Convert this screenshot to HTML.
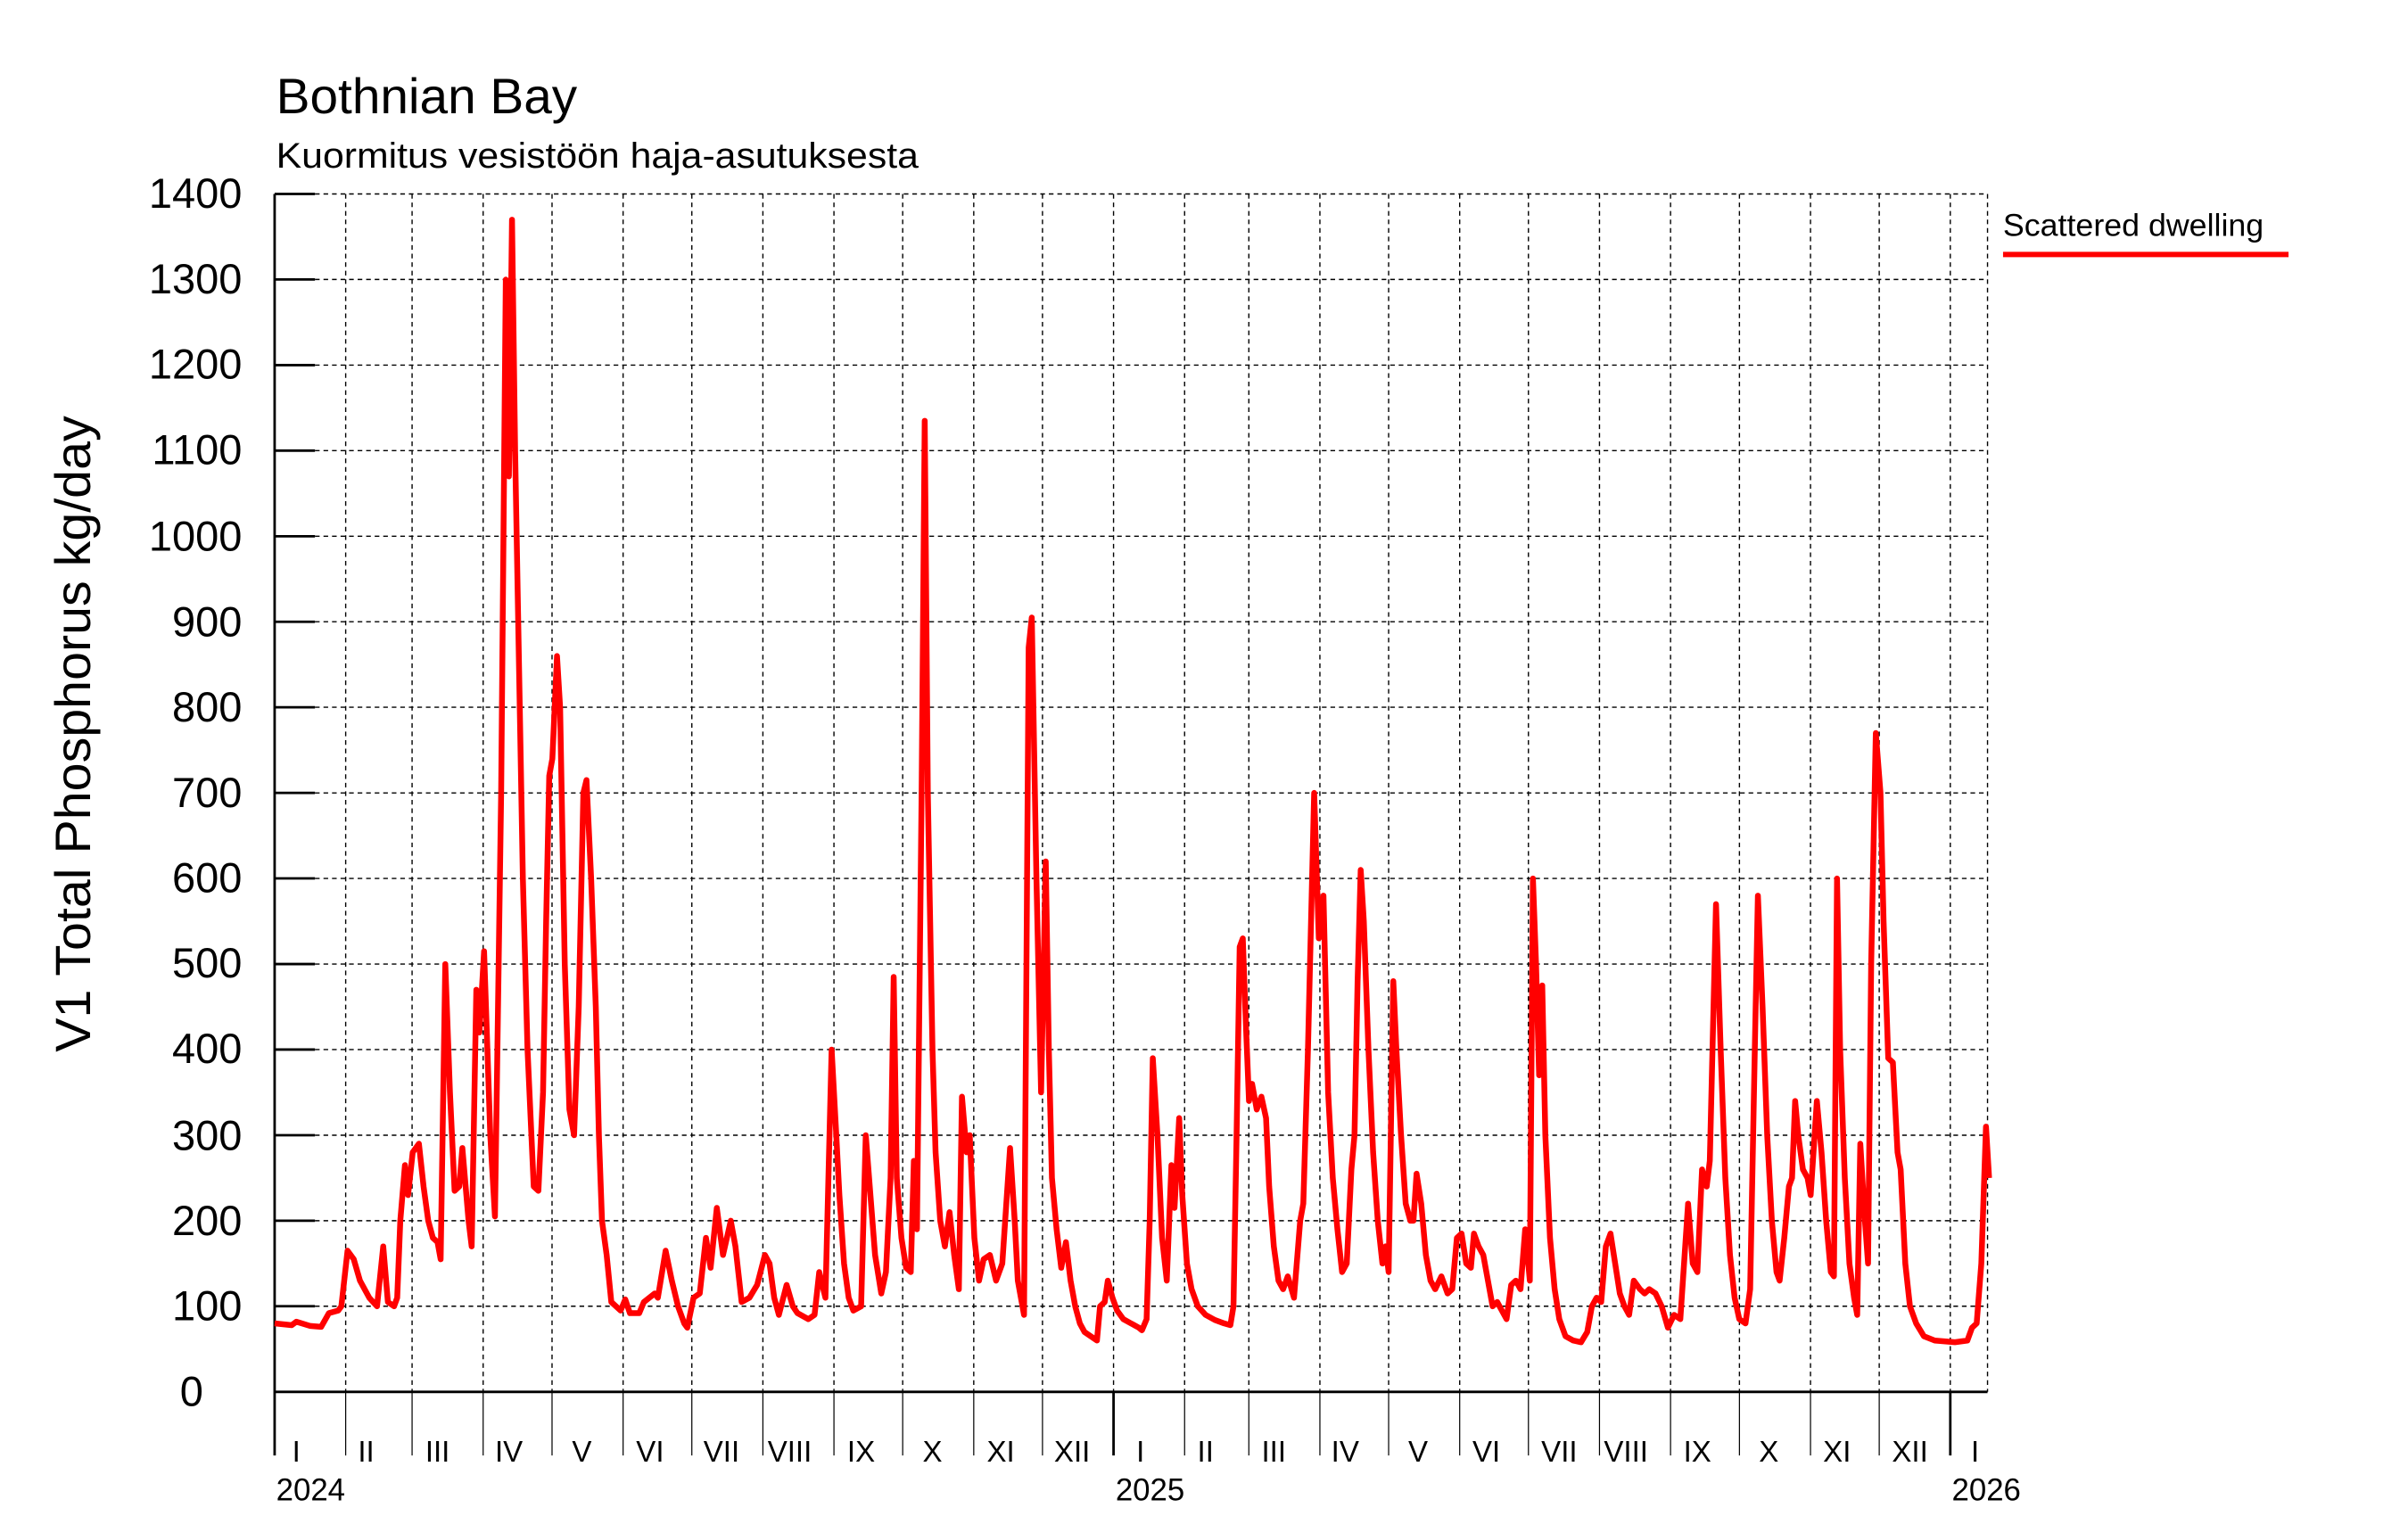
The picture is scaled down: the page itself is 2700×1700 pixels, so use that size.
<!DOCTYPE html>
<html><head><meta charset="utf-8"><style>
html,body{margin:0;padding:0;background:#fff;}
svg{display:block;}
text{font-family:"Liberation Sans",sans-serif;fill:#000;}
</style></head><body>
<svg width="2700" height="1700" viewBox="0 0 1552 977" preserveAspectRatio="none" xmlns="http://www.w3.org/2000/svg">
<rect width="1552" height="977" fill="#fff"/>
<text x="178" y="73" font-size="32" textLength="194" lengthAdjust="spacingAndGlyphs">Bothnian Bay</text>
<text x="178" y="108" font-size="23" textLength="414" lengthAdjust="spacingAndGlyphs">Kuormitus vesistöön haja-asutuksesta</text>
<text transform="translate(58,473) rotate(-90)" font-size="32" text-anchor="middle" textLength="410" lengthAdjust="spacingAndGlyphs">V1 Total Phosphorus kg/day</text>
<g stroke="#000" stroke-width="0.8" stroke-dasharray="3,2.5" fill="none">
<path d="M203 125H1281M203 180.1H1281M203 235.3H1281M203 290.4H1281M203 345.6H1281M203 400.7H1281M203 455.8H1281M203 511H1281M203 566.1H1281M203 621.3H1281M203 676.4H1281M203 731.6H1281M203 786.7H1281M203 841.8H1281"/>
<path d="M222.8 125V897M265.6 125V897M311.4 125V897M355.8 125V897M401.6 125V897M445.9 125V897M491.7 125V897M537.5 125V897M581.8 125V897M627.6 125V897M671.9 125V897M717.7 125V897M763.5 125V897M804.9 125V897M850.7 125V897M895 125V897M940.8 125V897M985.1 125V897M1030.9 125V897M1076.7 125V897M1121.1 125V897M1166.9 125V897M1211.2 125V897M1257 125V897M1281 125V897"/>
</g>
<g stroke="#000" stroke-width="0.7">
<path d="M222.8 897V938M265.6 897V938M311.4 897V938M355.8 897V938M401.6 897V938M445.9 897V938M491.7 897V938M537.5 897V938M581.8 897V938M627.6 897V938M671.9 897V938M763.5 897V938M804.9 897V938M850.7 897V938M895 897V938M940.8 897V938M985.1 897V938M1030.9 897V938M1076.7 897V938M1121.1 897V938M1166.9 897V938M1211.2 897V938"/>
</g>
<g stroke="#000" stroke-width="1.6" fill="none">
<path d="M177 125V938M177 897H1281M717.7 897V938M1257 897V938"/>
<path d="M177 125H203M177 180.1H203M177 235.3H203M177 290.4H203M177 345.6H203M177 400.7H203M177 455.8H203M177 511H203M177 566.1H203M177 621.3H203M177 676.4H203M177 731.6H203M177 786.7H203M177 841.8H203"/>
</g>
<g font-size="27" text-anchor="end">
<text x="156" y="134">1400</text><text x="156" y="189">1300</text><text x="156" y="244">1200</text><text x="156" y="299">1100</text><text x="156" y="355">1000</text><text x="156" y="410">900</text><text x="156" y="465">800</text><text x="156" y="520">700</text><text x="156" y="575">600</text><text x="156" y="630">500</text><text x="156" y="685">400</text><text x="156" y="741">300</text><text x="156" y="796">200</text><text x="156" y="851">100</text><text x="131" y="906">0</text>
</g>
<g font-size="19" text-anchor="middle">
<text x="191" y="942">I</text><text x="236" y="942">II</text><text x="282" y="942">III</text><text x="328" y="942">IV</text><text x="375" y="942">V</text><text x="419" y="942">VI</text><text x="465" y="942">VII</text><text x="509" y="942">VIII</text><text x="555" y="942">IX</text><text x="601" y="942">X</text><text x="645" y="942">XI</text><text x="691" y="942">XII</text>
<text x="735" y="942">I</text><text x="777" y="942">II</text><text x="821" y="942">III</text><text x="867" y="942">IV</text><text x="914" y="942">V</text><text x="958" y="942">VI</text><text x="1005" y="942">VII</text><text x="1048" y="942">VIII</text><text x="1094" y="942">IX</text><text x="1140" y="942">X</text><text x="1184" y="942">XI</text><text x="1231" y="942">XII</text><text x="1273" y="942">I</text>
</g>
<g font-size="20">
<text x="178" y="967">2024</text><text x="719" y="967">2025</text><text x="1258" y="967">2026</text>
</g>
<text x="1291" y="152" font-size="20" textLength="168" lengthAdjust="spacingAndGlyphs">Scattered dwelling</text>
<line x1="1291" y1="164" x2="1475" y2="164" stroke="#f00" stroke-width="3.5"/>
<g transform="translate(0,897) scale(1,-0.5514)">
<polyline fill="none" stroke="#ff0000" stroke-width="6.5" vector-effect="non-scaling-stroke" stroke-linejoin="round" points="177,80 188,78 191,82 200,77 207,76 212,92 218,95 220,100 224,165 228,155 232,130 238,110 243,100 247,170 250,105 254,100 256,110 258,200 261,265 263,230 266,280 270,290 273,240 276,200 279,180 282,175 284,155 287,500 290,350 293,235 296,240 298,285 302,200 304,170 307,470 309,420 312,515 316,300 319,205 323,700 326,1300 328,1070 330,1370 332,1100 334,900 337,600 340,400 344,240 347,235 350,350 352,550 354,720 356,740 359,860 361,800 364,500 367,330 370,300 373,450 376,700 378,715 381,600 384,450 386,300 388,200 391,160 394,105 400,95 403,108 406,92 412,92 415,105 422,115 424,110 429,165 433,130 437,100 441,80 443,75 447,110 451,115 455,180 458,145 462,215 466,160 471,200 474,170 478,105 483,110 488,125 493,160 496,150 499,110 502,90 507,125 511,100 514,92 518,88 521,85 525,90 528,140 532,110 536,400 539,300 541,230 544,150 547,110 550,95 555,100 558,300 561,230 564,160 568,115 571,140 574,250 576,485 578,250 581,180 584,145 587,140 589,270 591,190 594,700 596,1135 598,700 601,400 603,280 606,200 609,170 612,210 615,160 618,120 620,345 623,280 625,300 628,180 631,130 634,155 638,160 642,130 646,150 651,285 654,200 656,130 658,110 660,90 663,870 665,905 668,600 671,350 674,620 676,400 678,250 681,190 684,145 687,175 690,130 693,100 696,80 699,70 703,65 707,60 709,100 712,105 714,130 717,110 720,95 724,85 729,80 734,75 736,72 739,85 741,200 743,390 746,300 749,180 752,130 755,265 757,215 760,320 762,230 765,150 768,120 772,100 777,90 783,84 789,80 793,78 795,100 797,300 799,520 801,530 803,430 805,340 807,360 810,330 813,345 816,320 818,240 821,170 824,130 827,120 830,135 834,110 838,200 840,220 843,400 847,700 850,530 853,580 856,350 859,250 862,190 865,140 868,150 871,260 873,300 875,480 877,610 879,550 882,400 885,280 888,200 891,150 893,170 895,140 898,480 900,400 903,300 906,220 909,200 911,200 913,255 916,220 919,160 922,130 925,120 929,135 933,115 936,120 939,180 942,185 945,150 948,145 950,185 953,170 956,160 959,130 962,100 965,105 968,95 971,85 974,125 977,130 980,120 983,190 986,130 988,600 990,500 992,370 994,475 996,300 999,180 1002,120 1005,85 1009,65 1014,60 1019,58 1023,70 1026,100 1029,110 1032,105 1035,170 1038,185 1041,150 1044,115 1047,100 1050,90 1053,130 1057,120 1060,115 1063,120 1067,115 1071,100 1075,75 1079,90 1083,85 1088,220 1091,150 1094,140 1097,260 1100,240 1102,270 1106,570 1109,400 1112,250 1115,160 1118,110 1121,85 1125,80 1128,120 1131,400 1133,580 1136,450 1139,300 1142,200 1145,140 1147,130 1150,180 1153,240 1155,250 1157,340 1159,300 1162,260 1165,250 1167,230 1171,340 1174,280 1177,200 1180,140 1182,135 1184,600 1186,400 1189,250 1192,150 1195,110 1197,90 1199,290 1202,200 1204,150 1206,500 1209,770 1212,700 1214,550 1217,390 1220,385 1223,280 1225,260 1228,150 1231,100 1235,80 1240,65 1247,60 1260,58 1268,60 1271,75 1274,80 1277,150 1280,310 1282,250"/>
</g>
</svg>
</body></html>
